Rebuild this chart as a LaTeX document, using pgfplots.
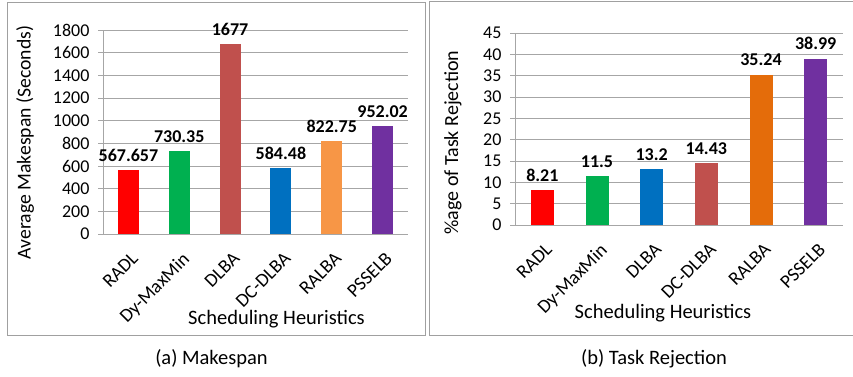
\documentclass[border=0pt]{standalone}
\usepackage{fontspec}
\setmainfont{Carlito}
\usepackage{pgfplots}
\pgfplotsset{compat=1.18}

\definecolor{cRed}{HTML}{FF0000}
\definecolor{cGreen}{HTML}{00B050}
\definecolor{cBrick}{HTML}{C0504D}
\definecolor{cBlue}{HTML}{0070C0}
\definecolor{cPeach}{HTML}{F79646}
\definecolor{cOrange}{HTML}{E46C0A}
\definecolor{cPurple}{HTML}{7030A0}
\definecolor{cGrid}{HTML}{A6A6A6}
\definecolor{cFrame}{HTML}{A0A0A0}

\newcommand{\fs}[1]{\fontsize{#1}{#1}\selectfont}

\pgfplotsset{
  excelbars/.style={
    scale only axis,
    anchor=south west,
    xmin=-0.5, xmax=5.5, ymin=0,
    xtick={0,...,5},
    xticklabels={RADL,Dy-MaxMin,DLBA,DC-DLBA,RALBA,PSSELB},
    major x tick style={draw=none},
    extra x ticks={-0.5,0.5,...,5.5},
    extra x tick labels={},
    extra x tick style={grid=none, major tick length=6pt, tick style={draw=cGrid, line width=0.8pt}},
    tick align=outside,
    major y tick style={draw=cGrid, line width=0.8pt},
    major tick length=5pt,
    ymajorgrids,
    grid style={cGrid, line width=0.8pt},
    axis x line*=bottom, axis y line*=left,
    axis line style={cGrid, line width=0.8pt, -},
    tick label style={font=\fs{18}, text=black},
    yticklabel style={xshift=-5pt},
    xticklabel style={font=\fs{19}, inner sep=0pt, xshift=2pt, yshift=-12pt, rotate=45, anchor=north east},
    /pgf/number format/assume math mode=true,
    /pgf/number format/1000 sep={},
    ybar, bar shift=0pt,
    point meta=explicit symbolic,
    nodes near coords,
    nodes near coords style={font=\bfseries\fs{18}, text=black, anchor=south, yshift=5pt},
    every axis plot/.append style={draw=none},
    clip=false,
  }
}

\begin{document}
\begin{tikzpicture}[x=1pt,y=1pt]
\path[use as bounding box] (0,0) rectangle (853,376);

% panel frames
\draw[cFrame, line width=1pt] (7,41) rectangle (425.3,373.3);
\draw[cFrame, line width=1pt] (429.3,41) rectangle (853.5,374);

% (a) makespan
\begin{axis}[excelbars, at={(103pt,142pt)}, width=305pt, height=204pt,
  ymax=1800, ytick={0,200,...,1800}, bar width=21pt]
\addplot[fill=cRed]    coordinates {(0,567.657) [567.657]};
\addplot[fill=cGreen]  coordinates {(1,730.35) [730.35]};
\addplot[fill=cBrick]  coordinates {(2,1677) [1677]};
\addplot[fill=cBlue]   coordinates {(3,584.48) [584.48]};
\addplot[fill=cPeach]  coordinates {(4,822.75) [822.75]};
\addplot[fill=cPurple] coordinates {(5,952.02) [952.02]};
\end{axis}
\node[rotate=90, font=\fs{19.7}] at (25,233.5) {Average Makespan (Seconds)};
\node[font=\fs{20.5}] at (276.5,57) {Scheduling Heuristics};
\node[font=\fs{20.5}] at (211.5,17) {(a) Makespan};

% (b) task rejection
\begin{axis}[excelbars, at={(515pt,151pt)}, width=328pt, height=192pt,
  ymax=45, ytick={0,5,...,45}, bar width=23pt]
\addplot[fill=cRed]    coordinates {(0,8.21) [8.21]};
\addplot[fill=cGreen]  coordinates {(1,11.5) [11.5]};
\addplot[fill=cBlue]   coordinates {(2,13.2) [13.2]};
\addplot[fill=cBrick]  coordinates {(3,14.43) [14.43]};
\addplot[fill=cOrange] coordinates {(4,35.24) [35.24]};
\addplot[fill=cPurple] coordinates {(5,38.99) [38.99]};
\end{axis}
\node[rotate=90, font=\fs{20}] at (453,233.5) {\%age of Task Rejection};
\node[font=\fs{20.5}] at (663,63) {Scheduling Heuristics};
\node[font=\fs{20.5}] at (654,17) {(b) Task Rejection};
\end{tikzpicture}
\end{document}
